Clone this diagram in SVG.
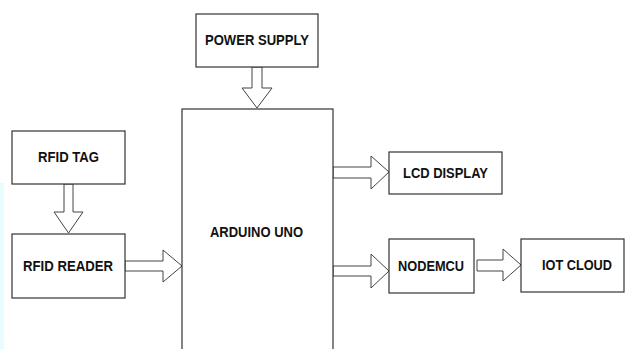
<svg xmlns="http://www.w3.org/2000/svg" width="625" height="349" viewBox="0 0 625 349">
<style>
.box{fill:#fff;stroke:#333;stroke-width:1.2}
.arr{fill:#fff;stroke:#444;stroke-width:1}
.lbl{font-family:"Liberation Sans",Arial,Helvetica,sans-serif;font-weight:bold;font-size:14.5px;fill:#111;text-anchor:middle}
</style>
<rect x="0" y="0" width="625" height="349" fill="#fff"/>
<rect x="0" y="183" width="4" height="166" fill="#e6fcfd"/>
<g id="connectors">
<path class="arr" d="M252,67 L262,67 L262,88 L272,88 L257,108 L242,88 L252,88 Z"/>
<path class="arr" d="M64,184 L73,184 L73,212 L83,212 L68.5,233 L54,212 L64,212 Z"/>
<path class="arr" d="M125,261 L163,261 L163,250 L182,266 L163,282 L163,271 L125,271 Z"/>
<path class="arr" d="M333,167 L371,167 L371,156 L389,172 L371,189 L371,178 L333,178 Z"/>
<path class="arr" d="M333,266 L371,266 L371,254 L389,271 L371,288 L371,276 L333,276 Z"/>
<path class="arr" d="M477,260 L503,260 L503,249 L521,265 L503,281 L503,271 L477,271 Z"/>
</g>
<g id="power-supply"><rect class="box" x="196" y="14" width="122" height="53"/><text class="lbl" x="257" y="45" textLength="104" lengthAdjust="spacingAndGlyphs">POWER SUPPLY</text></g>
<g id="arduino-uno"><rect class="box" x="182" y="109" width="151" height="250"/><text class="lbl" x="256.5" y="237" textLength="93" lengthAdjust="spacingAndGlyphs">ARDUINO UNO</text></g>
<g id="rfid-tag"><rect class="box" x="12" y="131" width="113" height="53"/><text class="lbl" x="68.5" y="162" textLength="61" lengthAdjust="spacingAndGlyphs">RFID TAG</text></g>
<g id="rfid-reader"><rect class="box" x="12" y="234" width="113" height="64"/><text class="lbl" x="68" y="271" textLength="90" lengthAdjust="spacingAndGlyphs">RFID READER</text></g>
<g id="lcd-display"><rect class="box" x="389" y="152" width="113" height="42"/><text class="lbl" x="445.5" y="178" textLength="85" lengthAdjust="spacingAndGlyphs">LCD DISPLAY</text></g>
<g id="nodemcu"><rect class="box" x="389" y="239" width="85" height="54"/><text class="lbl" x="431" y="271" textLength="66" lengthAdjust="spacingAndGlyphs">NODEMCU</text></g>
<g id="iot-cloud"><rect class="box" x="521" y="239" width="103" height="53"/><text class="lbl" x="577" y="270" textLength="70" lengthAdjust="spacingAndGlyphs">IOT CLOUD</text></g>
</svg>
